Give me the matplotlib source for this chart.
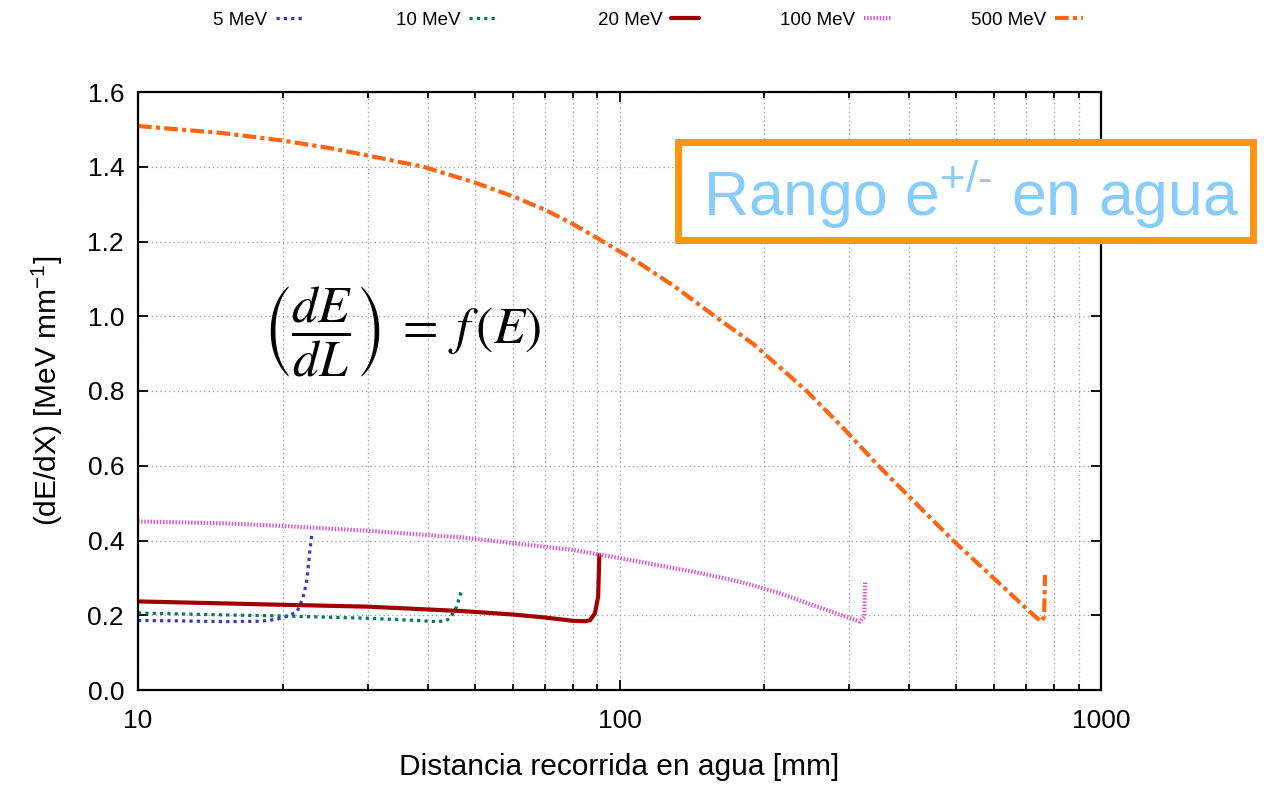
import matplotlib
matplotlib.use("Agg")
import matplotlib.pyplot as plt
from matplotlib.patches import Rectangle
from matplotlib.ticker import LogLocator, NullFormatter, FixedLocator

plt.rcParams['font.family'] = ['Liberation Sans', 'DejaVu Sans']
plt.rcParams['mathtext.fontset'] = 'custom'
plt.rcParams['mathtext.rm'] = 'Liberation Sans'
plt.rcParams['mathtext.it'] = 'Liberation Sans:italic'
plt.rcParams['mathtext.bf'] = 'Liberation Sans:bold'

# Stopping power along the track for e+/- of several initial energies
x_5 = [10, 12, 15, 18, 19.4, 20.5, 21.4, 22.0, 22.4, 22.76, 22.95]
y_5 = [0.186, 0.185, 0.183, 0.184, 0.189, 0.198, 0.21, 0.245, 0.29, 0.375, 0.415]

x_10 = [10, 15, 20, 30, 38, 41.7, 43.5, 44.5, 45.9, 47.0]
y_10 = [0.206, 0.201, 0.198, 0.192, 0.186, 0.183, 0.185, 0.192, 0.223, 0.268]

x_20 = [10, 20, 30, 47.4, 60, 70, 80.2, 85, 86.9, 88.9, 90.3, 90.8]
y_20 = [0.237, 0.228, 0.223, 0.211, 0.202, 0.194, 0.185, 0.184, 0.187, 0.205, 0.25, 0.361]

x_100 = [10, 15, 20, 30, 47.4, 60, 80, 105, 147, 180, 215, 260, 300, 315.9, 322.5, 323.6]
y_100 = [0.451, 0.446, 0.439, 0.426, 0.408, 0.393, 0.375, 0.348, 0.313, 0.288, 0.259,
         0.221, 0.193, 0.183, 0.196, 0.29]

x_500 = [10, 15, 20, 25, 30, 39.1, 50, 60, 70, 80, 92.4, 110, 130, 157.8, 190,
         244.7, 290, 344.8, 410, 493, 600, 700, 750, 762, 765]
y_500 = [1.509, 1.490, 1.470, 1.450, 1.430, 1.400, 1.358, 1.321, 1.285, 1.247,
         1.200, 1.142, 1.080, 1.000, 0.925, 0.800, 0.704, 0.600, 0.503, 0.400,
         0.298, 0.218, 0.183, 0.196, 0.308]

labels = ['5 MeV', '10 MeV', '20 MeV', '100 MeV', '500 MeV']
y_ticks = [0.0, 0.2, 0.4, 0.6, 0.8, 1.0, 1.2, 1.4, 1.6]
x_ticks = [10, 100, 1000]

W, H = 1268, 786
fig = plt.figure(figsize=(W / 100, H / 100), dpi=100)
ax = fig.add_axes([138 / W, 1 - 690 / H, (1101 - 138) / W, (690 - 92) / H])

styles = [
    dict(color='#3838c8', lw=2.3, linestyle=(0, (1.0, 1.3))),
    dict(color='#007a5a', lw=2.3, linestyle=(0, (1.0, 1.3))),
    dict(color='#a00000', lw=3.0, linestyle='-', solid_capstyle='round', solid_joinstyle='round'),
    dict(color='#dd55cc', lw=3.0, linestyle=(0, (0.35, 0.4))),
    dict(color='#ff6410', lw=3.0, linestyle=(0, (3.3, 1.0, 1.0, 1.0))),
]
series = [(x_5, y_5), (x_10, y_10), (x_20, y_20), (x_100, y_100), (x_500, y_500)]

handles = []
for (xs, ys), st, lab in zip(series, styles, labels):
    ln, = ax.plot(xs, ys, label=lab, **st)
    handles.append(ln)

ax.set_xscale('log')
ax.set_xlim(10, 1000)
ax.set_ylim(0, 1.6)
ax.xaxis.set_major_locator(FixedLocator(x_ticks))
ax.set_xticklabels([str(v) for v in x_ticks])
ax.xaxis.set_minor_locator(LogLocator(base=10, subs=range(2, 10)))
ax.xaxis.set_minor_formatter(NullFormatter())
ax.set_yticks(y_ticks)
ax.set_yticklabels([f'{v:.1f}' for v in y_ticks])

ax.grid(True, which='major', axis='both', color='#9a9a9a', linestyle=(0, (1, 2.5)), lw=0.9)
ax.grid(True, which='minor', axis='x', color='#9a9a9a', linestyle=(0, (1, 2.5)), lw=0.9)
ax.set_axisbelow(True)

ax.tick_params(which='both', direction='in', top=True, right=True, labelsize=19, width=1.3)
ax.tick_params(which='major', length=7, pad=10)
ax.tick_params(axis='x', which='major', pad=14)
ax.tick_params(which='minor', length=4)
for sp in ax.spines.values():
    sp.set_linewidth(1.6)

ax.set_xlabel('Distancia recorrida en agua [mm]', fontsize=21.5, labelpad=14)
ax.set_ylabel('(dE/dX) [MeV mm$^{-1}$]', fontsize=21.5, labelpad=16)

# Legend row along the top: label text followed by the line sample
right_edges = [304, 497, 699, 892, 1083]
for h, lab, xr in zip(handles, labels, right_edges):
    fig.legend([h], [lab], loc='center right', bbox_to_anchor=(xr / W, 1 - 20 / H),
               markerfirst=False, frameon=False, fontsize=13.5, borderpad=0,
               borderaxespad=0, handlelength=1.5, handletextpad=0.45)

# Formula inside the plot
fig.text(402 / W, 1 - 332 / H, r'$\left(\dfrac{dE}{dL}\right)\;=\;f\,(E)$',
         fontsize=37, ha='center', va='center', math_fontfamily='stix')

# Title box
fig.patches.append(Rectangle((678 / W, 1 - 240 / H), (1253 - 678) / W, (240 - 142) / H,
                             transform=fig.transFigure, facecolor='white',
                             edgecolor='#ff9410', lw=5, zorder=5))
fig.text(971 / W, 1 - 195 / H, r'Rango e$^{\text{+/-}}$ en agua', fontsize=45,
         color='#88ccfc', ha='center', va='center', zorder=6)

fig.savefig('out.png', dpi=100)
